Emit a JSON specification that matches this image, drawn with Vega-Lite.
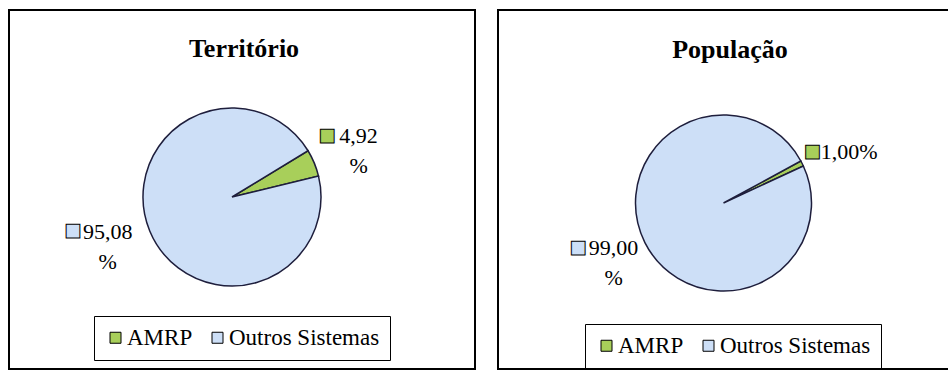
{
  "$schema": "https://vega.github.io/schema/vega-lite/v6.json",
  "padding": {"left": 8, "top": 9, "right": 0, "bottom": 0},
  "background": "white",
  "config": {
    "view": {"stroke": "black", "strokeWidth": 2},
    "concat": {"spacing": 21},
    "title": {"font": "Liberation Serif", "fontSize": 26, "fontWeight": "bold", "color": "black", "anchor": "middle", "baseline": "middle", "offset": 0},
    "legend": {
      "symbolType": "square", "symbolSize": 121, "symbolStrokeColor": "black", "symbolStrokeWidth": 1,
      "labelFont": "Liberation Serif", "labelFontSize": 23, "labelColor": "black", "labelLimit": 400,
      "strokeColor": "black", "padding": 10, "columnPadding": 13, "labelOffset": 0
    },
    "text": {"font": "Liberation Serif", "fontSize": 22, "color": "black"}
  },
  "resolve": {"legend": {"color": "independent"}, "scale": {"theta": "independent"}},
  "hconcat": [
    {
      "width": 466, "height": 359,
      "view": {"stroke": "black", "strokeWidth": 2},
      "title": {"text": "Território", "dx": 2, "dy": 56},
      "data": {"values": [
        {"Sistema": "AMRP", "Pct": 4.92, "Rotulo": "4,92\n%"},
        {"Sistema": "Outros Sistemas", "Pct": 95.08, "Rotulo": "95,08\n%"}
      ]},
      "encoding": {
        "theta": {"field": "Pct", "type": "quantitative", "stack": true, "scale": {"domain": [0, 100], "range": [1.0245, 7.3077]}},
        "color": {"field": "Sistema", "type": "nominal", "scale": {"domain": ["AMRP", "Outros Sistemas"], "range": ["#a8cf5a", "#cddff7"]},
          "legend": {"orient": "none", "legendX": 85, "legendY": 306, "direction": "horizontal", "title": null}}
      },
      "layer": [
        {"mark": {"type": "arc", "outerRadius": 89, "stroke": "#1e1e3c", "strokeWidth": 1.5, "xOffset": -10, "yOffset": 7.5}},
        {"mark": {"type": "text", "radius": 137, "dy": -9, "align": "center", "baseline": "middle", "lineBreak": "\n", "lineHeight": 30, "xOffset": -10, "yOffset": 7.5},
         "encoding": {"color": {"value": "black"}, "text": {"condition": {"test": "datum.Sistema === 'AMRP'", "field": "Rotulo", "type": "nominal"}, "value": ""}}},
        {"mark": {"type": "text", "radius": 137, "dx": -31.6, "dy": -8.8, "align": "center", "baseline": "middle", "font": "DejaVu Sans", "fontSize": 18, "stroke": "black", "strokeWidth": 1, "xOffset": -10, "yOffset": 7.5},
         "encoding": {"text": {"condition": {"test": "datum.Sistema === 'AMRP'", "value": "■"}, "value": ""}}},
        {"mark": {"type": "text", "radius": 135, "dx": 0.4, "dy": -16.7, "align": "center", "baseline": "middle", "lineBreak": "\n", "lineHeight": 30, "xOffset": -10, "yOffset": 7.5},
         "encoding": {"color": {"value": "black"}, "text": {"condition": {"test": "datum.Sistema === 'Outros Sistemas'", "field": "Rotulo", "type": "nominal"}, "value": ""}}},
        {"mark": {"type": "text", "radius": 135, "dx": -34.6, "dy": -17.7, "align": "center", "baseline": "middle", "font": "DejaVu Sans", "fontSize": 18, "stroke": "black", "strokeWidth": 1, "xOffset": -10, "yOffset": 7.5},
         "encoding": {"text": {"condition": {"test": "datum.Sistema === 'Outros Sistemas'", "value": "■"}, "value": ""}}}
      ]
    },
    {
      "width": 451, "height": 359,
      "view": {"stroke": "black", "strokeWidth": 2},
      "title": {"text": "População", "dx": 6.5, "dy": 57},
      "data": {"values": [
        {"Sistema": "AMRP", "Pct": 1.0, "Rotulo": "1,00%"},
        {"Sistema": "Outros Sistemas", "Pct": 99.0, "Rotulo": "99,00\n%"}
      ]},
      "encoding": {
        "theta": {"field": "Pct", "type": "quantitative", "stack": true, "scale": {"domain": [0, 100], "range": [1.0734, 7.3566]}},
        "color": {"field": "Sistema", "type": "nominal", "scale": {"domain": ["AMRP", "Outros Sistemas"], "range": ["#a8cf5a", "#cddff7"]},
          "legend": {"orient": "none", "legendX": 87, "legendY": 314, "direction": "horizontal", "title": null}}
      },
      "layer": [
        {"mark": {"type": "arc", "outerRadius": 88, "stroke": "#1e1e3c", "strokeWidth": 1.5, "xOffset": 0, "yOffset": 13.5}},
        {"mark": {"type": "text", "radius": 144, "dx": -3, "dy": 14, "align": "center", "baseline": "middle", "lineBreak": "\n", "lineHeight": 30, "xOffset": 0, "yOffset": 13.5},
         "encoding": {"color": {"value": "black"}, "text": {"condition": {"test": "datum.Sistema === 'AMRP'", "field": "Rotulo", "type": "nominal"}, "value": ""}}},
        {"mark": {"type": "text", "radius": 144, "dx": -40, "dy": 14, "align": "center", "baseline": "middle", "font": "DejaVu Sans", "fontSize": 18, "stroke": "black", "strokeWidth": 1, "xOffset": 0, "yOffset": 13.5},
         "encoding": {"text": {"condition": {"test": "datum.Sistema === 'AMRP'", "value": "■"}, "value": ""}}},
        {"mark": {"type": "text", "radius": 123, "dx": 0, "dy": -10.6, "align": "center", "baseline": "middle", "lineBreak": "\n", "lineHeight": 30, "xOffset": 0, "yOffset": 13.5},
         "encoding": {"color": {"value": "black"}, "text": {"condition": {"test": "datum.Sistema === 'Outros Sistemas'", "field": "Rotulo", "type": "nominal"}, "value": ""}}},
        {"mark": {"type": "text", "radius": 123, "dx": -35.7, "dy": -10.6, "align": "center", "baseline": "middle", "font": "DejaVu Sans", "fontSize": 18, "stroke": "black", "strokeWidth": 1, "xOffset": 0, "yOffset": 13.5},
         "encoding": {"text": {"condition": {"test": "datum.Sistema === 'Outros Sistemas'", "value": "■"}, "value": ""}}}
      ]
    }
  ]
}
